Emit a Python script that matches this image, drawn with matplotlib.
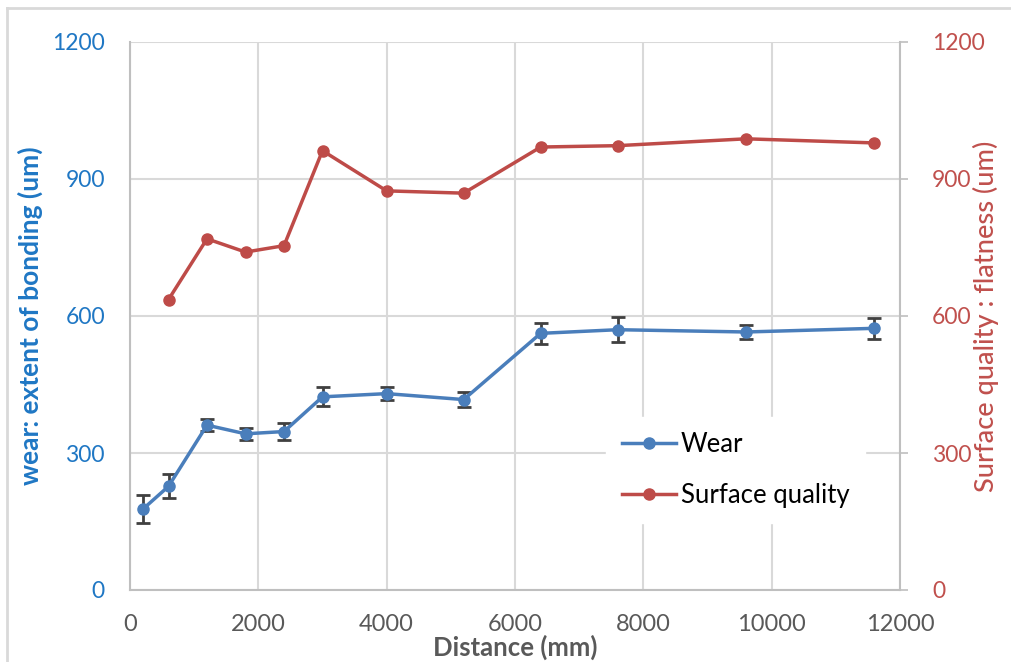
import matplotlib
matplotlib.use('Agg')
import matplotlib.pyplot as plt
from matplotlib.lines import Line2D

plt.rcParams['font.family'] = ['Lato', 'DejaVu Sans']

distance = [200, 600, 1200, 1800, 2400, 3000, 4000, 5200, 6400, 7600, 9600, 11600]
wear = [177, 227, 361, 342, 347, 423, 430, 417, 562, 570, 565, 573]
wear_err = [31, 26, 13, 13, 18, 21, 15, 17, 23, 27, 16, 23]
sq_distance = [600, 1200, 1800, 2400, 3000, 4000, 5200, 6400, 7600, 9600, 11600]
surface = [636, 769, 740, 754, 962, 874, 869, 970, 973, 988, 979]

x_ticks = [0, 2000, 4000, 6000, 8000, 10000, 12000]
y_ticks = [0, 300, 600, 900, 1200]

blue = '#4a7ebb'
red = '#be4b48'
grid_c = '#d9d9d9'
axis_c = '#bfbfbf'

fig = plt.figure(figsize=(10.12, 6.62), dpi=100)
ax = fig.add_axes([130/1012, 1-590/662, 770/1012, 548/662])
ax2 = ax.twinx()

ax.set_xlim(0, 12000)
ax.set_ylim(0, 1200)
ax2.set_ylim(0, 1200)
ax.set_xticks(x_ticks)
ax.set_yticks(y_ticks)
ax2.set_yticks(y_ticks)

ax.grid(True, color=grid_c, lw=1.5)
ax.set_axisbelow(True)

ax.spines['top'].set_visible(False)
ax2.spines['top'].set_visible(False)
ax2.spines['left'].set_visible(False)
ax2.spines['bottom'].set_visible(False)
ax.spines['right'].set_visible(False)
for s in ['left', 'bottom']:
    ax.spines[s].set_color(axis_c)
    ax.spines[s].set_linewidth(1.5)
ax2.spines['right'].set_color(axis_c)
ax2.spines['right'].set_linewidth(1.5)

ax.tick_params(axis='x', length=0, pad=17, labelsize=17, labelcolor='#595959')
ax.tick_params(axis='y', length=0, pad=18, labelsize=16.5, labelcolor='#1f77c4')
ax2.tick_params(axis='y', length=6, width=1.2, color=axis_c, pad=17,
                labelsize=16.5, labelcolor='#c0504d')

ax.errorbar(distance, wear, yerr=wear_err, color=blue, lw=2.5,
            marker='o', ms=8, ecolor='#404040', elinewidth=2,
            capsize=5, capthick=2, zorder=3)
ax2.plot(sq_distance, surface, color=red, lw=2.5, marker='o', ms=8, zorder=3)

ax.set_xlabel('Distance (mm)', fontsize=18.5, fontweight='bold', color='#595959',
              labelpad=0)
ax.set_ylabel('wear: extent of bonding (um)', fontsize=19, fontweight='bold',
              color='#1f77c4', va='center')
ax.yaxis.set_label_coords((30 - 130) / 770, 0.5)
ax2.set_ylabel('Surface quality : flatness (um)', fontsize=19.5,
               fontweight='medium', color='#c0504d', va='center', rotation=90)
ax2.yaxis.set_label_coords((986 - 130) / 770, 0.5)

h1 = Line2D([], [], color=blue, lw=2.5, marker='o', ms=8)
h2 = Line2D([], [], color=red, lw=2.5, marker='o', ms=8)
ax2.legend([h1, h2], ['Wear', 'Surface quality'],
           loc='upper left', bbox_to_anchor=(0.602, 0.34),
           frameon=True, fancybox=False, edgecolor='white',
           facecolor='white', framealpha=1, fontsize=18.5,
           handlelength=2.1, labelspacing=1.0, borderpad=0.6,
           handletextpad=0.2)

# outer frame
fig.add_artist(Line2D([7/1012, 7/1012], [0, 1-8/662], color='#d9d9d9', lw=2,
                      transform=fig.transFigure))
fig.add_artist(Line2D([7/1012, 1], [1-8/662, 1-8/662], color='#d9d9d9', lw=2,
                      transform=fig.transFigure))

fig.savefig('out.png', dpi=100)
